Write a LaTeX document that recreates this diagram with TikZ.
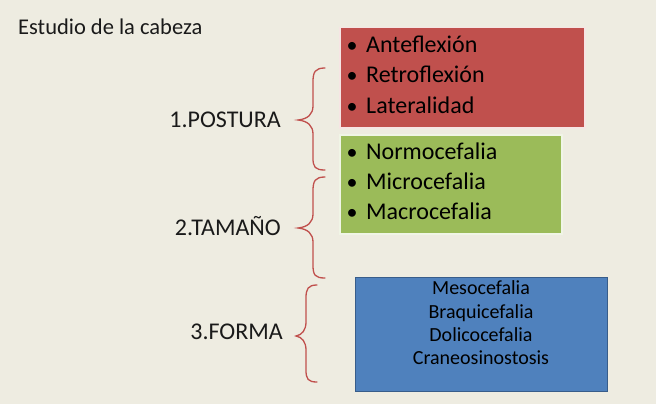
\documentclass[tikz,border=0pt]{standalone}
\usepackage{fontspec}
\setmainfont{Carlito}
\definecolor{bg}{HTML}{EEECE1}
\definecolor{redbox}{HTML}{C0504D}
\definecolor{greenbox}{HTML}{9BBB59}
\definecolor{bluebox}{HTML}{4F81BD}
\definecolor{blueedge}{HTML}{385D8A}
\definecolor{bracec}{HTML}{C0504D}
\definecolor{txt}{HTML}{1A1A1A}
\tikzset{
  lbl/.style={font=\fontsize{24}{28}\selectfont, text=txt, inner sep=0pt, anchor=base east},
  item/.style={font=\fontsize{24}{28}\selectfont, text=black, inner sep=0pt, anchor=base west},
  bul/.style={font=\fontsize{22}{26}\selectfont, text=black, inner sep=0pt, anchor=base},
  bitem/.style={font=\fontsize{20}{24}\selectfont, text=black, inner sep=0pt, anchor=base},
  bracestyle/.style={draw=bracec, line width=1.3pt, line cap=round},
}
\begin{document}
\begin{tikzpicture}[x=1pt,y=-1pt]
\fill[bg] (0,0) rectangle (656,404);
\useasboundingbox (0,0) rectangle (656,404);
% title
\node[font=\fontsize{22.5}{26}\selectfont, text=txt, inner sep=0pt, anchor=base west] (title) at (18,35) {Estudio de la cabeza};
% boxes
\node[draw=white!85!redbox, line width=1.5pt, fill=redbox, minimum width=245pt, minimum height=100pt, anchor=north west, inner sep=0pt] (redb) at (339,27) {};
\node[draw=white!85!greenbox, line width=1.5pt, fill=greenbox, minimum width=222pt, minimum height=99pt, anchor=north west, inner sep=0pt] (greenb) at (339,134) {};
\node[draw=blueedge, line width=1.2pt, fill=bluebox, minimum width=252pt, minimum height=114pt, anchor=north west, inner sep=0pt] (blueb) at (355,277) {};
% bullet items
\foreach \n/\y/\t in {a1/53/Anteflexión, a2/83/Retroflexión, a3/113/Lateralidad,
                      b1/159/Normocefalia, b2/189/Microcefalia, b3/219/Macrocefalia}{
  \node[bul] (bul\n) at (352,\y) {•};
  \node[item] (it\n) at (366,\y) {\t};
}
% blue items
\node[bitem] (c1) at (481,294) {Mesocefalia};
\node[bitem] (c2) at (481,318) {Braquicefalia};
\node[bitem] (c3) at (481,341) {Dolicocefalia};
\node[bitem] (c4) at (481,364) {Craneosinostosis};
% labels
\node[lbl] (l1) at (281,127) {1.POSTURA};
\node[lbl] (l2) at (281,235) {2.TAMAÑO};
\node[lbl] (l3) at (283,339) {3.FORMA};
% braces
\draw[bracestyle] (325,68) .. controls (315,68) and (313,72) .. (313,82)
   -- (313,106) .. controls (313,114) and (308,119) .. (298,120)
   .. controls (308,121) and (313,126) .. (313,134)
   -- (313,158) .. controls (313,167) and (315,170) .. (325,170);
\draw[bracestyle] (325,177) .. controls (315,177) and (313,181) .. (313,191)
   -- (313,214) .. controls (313,222) and (308,227) .. (298,228)
   .. controls (308,229) and (313,234) .. (313,242)
   -- (313,265) .. controls (313,275) and (315,278) .. (325,278);
\draw[bracestyle] (317,285) .. controls (308,285) and (306,289) .. (306,298)
   -- (306,322) .. controls (306,330) and (302,335) .. (296,336)
   .. controls (302,337) and (306,342) .. (306,350)
   -- (306,370) .. controls (306,379) and (308,382) .. (317,382);
\end{tikzpicture}
\end{document}
